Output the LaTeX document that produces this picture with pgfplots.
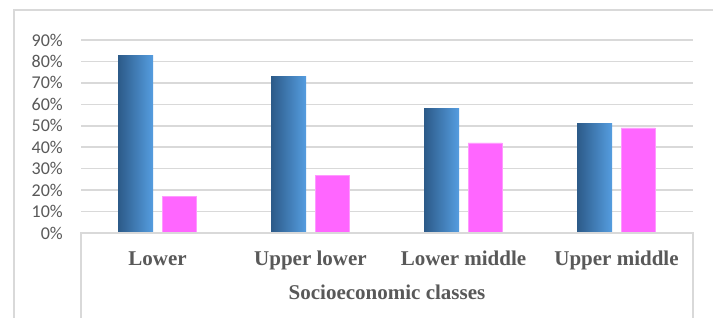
\documentclass[border=0pt]{standalone}
\usepackage{pgfplots}
\pgfplotsset{compat=1.18}
\usepackage{fontspec}
\setmainfont{Liberation Serif}
\newfontfamily\calibri{Carlito}
\definecolor{gridc}{HTML}{D9D9D9}
\definecolor{txt}{HTML}{595959}
\definecolor{bluedark}{HTML}{2C5A88}
\definecolor{bluelight}{HTML}{559DE0}
\definecolor{pinkc}{HTML}{FF66FF}
\definecolor{pinkedge}{HTML}{FF99FF}
\begin{document}
\begin{tikzpicture}[x=1pt,y=1pt]
\useasboundingbox (0,0) rectangle (713,318);
\fill[white] (0,0) rectangle (713,318);
\draw[gridc, line width=1.5pt] (14,0) -- (14,308) -- (713,308);
\begin{axis}[
  at={(81pt,85pt)}, anchor=south west,
  scale only axis, width=612pt, height=193pt,
  xmin=-0.5, xmax=3.5, ymin=0, ymax=90,
  axis line style={draw=none},
  ytick={0,10,...,90},
  yticklabels={0\%,10\%,20\%,30\%,40\%,50\%,60\%,70\%,80\%,90\%},
  xtick={0,1,2,3},
  xticklabels={Lower,Upper lower,Lower middle,Upper middle},
  major tick length=0pt,
  ymajorgrids, grid style={gridc, line width=1.5pt},
  yticklabel style={font=\calibri\fontsize{18}{18}\selectfont, text=txt, anchor=east, inner sep=0pt, xshift=-18pt},
  xticklabel style={font=\bfseries\fontsize{21}{21}\selectfont, text=txt, anchor=base, inner sep=0pt, yshift=-33pt},
  xlabel={Socioeconomic classes},
  xlabel style={font=\bfseries\fontsize{21}{21}\selectfont, text=txt, at={(axis description cs:0.5,0)}, anchor=base, inner sep=0pt, yshift=-67pt},
  clip=false,
  bluebar/.style={ybar, bar width=35pt, bar shift=-22pt, draw=none, left color=bluedark, right color=bluelight},
]
\addplot[bluebar] coordinates {(0,83)};
\addplot[bluebar] coordinates {(1,73)};
\addplot[bluebar] coordinates {(2,58)};
\addplot[bluebar] coordinates {(3,51)};
\addplot[ybar, bar width=34pt, bar shift=21.5pt, draw=pinkedge, line width=0.8pt, fill=pinkc]
  coordinates {(0,17) (1,27) (2,42) (3,49)};
\end{axis}
\draw[gridc, line width=1.5pt] (81,0) -- (81,85) -- (693,85) -- (693,0);
\end{tikzpicture}
\end{document}
